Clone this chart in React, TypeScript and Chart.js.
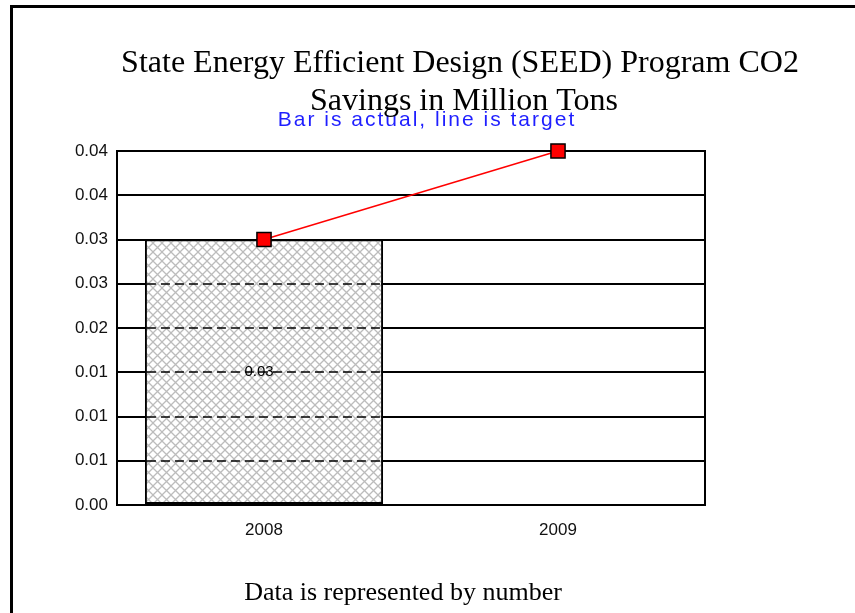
import React, { useEffect, useRef } from 'react';
import { Chart, registerables } from 'chart.js';

Chart.register(...registerables);

const categories = ['2008', '2009'];
const actualValues: (number | null)[] = [0.03, null];
const targetValues = [0.03, 0.04];
const yTickLabels = ['0.00', '0.01', '0.01', '0.01', '0.02', '0.03', '0.03', '0.04', '0.04'];
const yMin = 0;
const yMax = 0.04;
const yStep = 0.005;
const titleLines = ['State Energy Efficient Design (SEED) Program CO2', 'Savings in Million Tons'];
const subtitleText = 'Bar is actual, line is target';
const footerText = 'Data is represented by number';

function makeHatch(): CanvasPattern | string {
  const s = 9;
  const c = document.createElement('canvas');
  c.width = s;
  c.height = s;
  const g = c.getContext('2d');
  if (!g) return '#ddd';
  g.fillStyle = '#ffffff';
  g.fillRect(0, 0, s, s);
  g.strokeStyle = '#bcbcbc';
  g.lineWidth = 1.3;
  g.beginPath();
  g.moveTo(-1, -1);
  g.lineTo(s + 1, s + 1);
  g.moveTo(s + 1, -1);
  g.lineTo(-1, s + 1);
  g.stroke();
  const p = g.createPattern(c, 'repeat');
  return p || '#ddd';
}

const decorPlugin = {
  id: 'decor',
  beforeDatasetsDraw(chart: any) {
    const ctx = chart.ctx;
    const a = chart.chartArea;
    ctx.save();
    ctx.strokeStyle = '#000';
    ctx.lineWidth = 2;
    ctx.strokeRect(a.left, a.top, a.right - a.left, a.bottom - a.top);
    ctx.restore();
  },
  afterDatasetDraw(chart: any, args: any) {
    if (args.meta.type !== 'bar') return;
    const ctx = chart.ctx;
    const yScale = chart.scales.y;
    args.meta.data.forEach((bar: any, i: number) => {
      const v = actualValues[i];
      if (v == null) return;
      const p = bar.getProps(['x', 'y', 'base', 'width'], true);
      const left = p.x - p.width / 2;
      const right = p.x + p.width / 2;
      ctx.save();
      ctx.strokeStyle = '#000';
      ctx.lineWidth = 1.5;
      ctx.setLineDash([9, 5]);
      yScale.ticks.forEach((t: any) => {
        if (t.value > 1e-9 && t.value < v - 1e-9) {
          const py = Math.round(yScale.getPixelForValue(t.value));
          ctx.beginPath();
          ctx.moveTo(left + 2, py);
          ctx.lineTo(right - 1, py);
          ctx.stroke();
        }
      });
      ctx.setLineDash([]);
      ctx.fillStyle = '#000';
      ctx.font = '15px "Liberation Sans", Arial, sans-serif';
      ctx.textAlign = 'center';
      ctx.textBaseline = 'middle';
      ctx.fillText(v.toFixed(2), p.x - 5, (p.y + p.base) / 2);
      ctx.restore();
    });
  },
  afterDraw(chart: any) {
    const ctx = chart.ctx;
    ctx.save();
    // subtitle
    ctx.fillStyle = '#1f1fff';
    ctx.font = '21px "Liberation Sans", Arial, sans-serif';
    (ctx as any).letterSpacing = '2px';
    ctx.textAlign = 'center';
    ctx.textBaseline = 'alphabetic';
    ctx.fillText(subtitleText, 427, 126);
    (ctx as any).letterSpacing = '0px';
    // title
    ctx.fillStyle = '#000';
    ctx.font = '32px "Liberation Serif", "Times New Roman", serif';
    ctx.fillText(titleLines[0], 460, 72);
    ctx.fillText(titleLines[1], 464, 110);
    // footer
    ctx.font = '26px "Liberation Serif", "Times New Roman", serif';
    ctx.fillText(footerText, 403, 600);
    ctx.restore();
  },
};

export default function App() {
  const ref = useRef<HTMLCanvasElement>(null);
  useEffect(() => {
    if (!ref.current) return;
    const hatch = makeHatch();
    const chart = new Chart(ref.current, {
      type: 'bar',
      data: {
        labels: categories,
        datasets: [
          {
            type: 'line',
            label: 'Target',
            data: targetValues,
            borderColor: '#ff0000',
            borderWidth: 1.5,
            backgroundColor: '#ff0000',
            pointStyle: 'rect',
            pointRadius: 10,
            pointBackgroundColor: '#ff0000',
            pointBorderColor: '#000',
            pointBorderWidth: 1.5,
            order: 0,
            clip: false,
          } as any,
          {
            type: 'bar',
            label: 'Actual',
            data: actualValues,
            backgroundColor: hatch as any,
            borderColor: '#000',
            borderWidth: 2,
            borderSkipped: false,
            barPercentage: 0.81,
            categoryPercentage: 1,
            order: 1,
          } as any,
        ],
      },
      options: {
        responsive: false,
        animation: false,
        devicePixelRatio: 1,
        layout: { padding: { left: 0, right: 150, top: 151, bottom: 0 } },
        plugins: {
          legend: { display: false },
          tooltip: { enabled: false },
          title: { display: false },
        },
        scales: {
          x: {
            afterFit: (s: any) => {
              s.height = 108;
            },
            grid: { display: false },
            border: { display: false },
            ticks: {
              color: '#111',
              font: { family: '"Liberation Sans", Arial, sans-serif', size: 17 },
              padding: 7,
              maxRotation: 0,
            },
          },
          y: {
            min: yMin,
            max: yMax,
            afterFit: (s: any) => {
              s.width = 117;
            },
            grid: { color: '#000', lineWidth: 2, drawTicks: false },
            border: { display: false },
            ticks: {
              stepSize: yStep,
              color: '#111',
              font: { family: '"Liberation Sans", Arial, sans-serif', size: 17 },
              padding: 9,
              callback: (_v: any, i: number) => yTickLabels[i],
            },
          },
        },
      },
      plugins: [decorPlugin],
    });
    return () => chart.destroy();
  }, []);
  return (
    <div
      style={{
        position: 'absolute',
        left: 0,
        top: 0,
        width: 855,
        height: 613,
        overflow: 'hidden',
        background: '#fff',
      }}
    >
      <div
        style={{
          position: 'absolute',
          left: 10,
          top: 5,
          width: 1000,
          height: 1000,
          borderLeft: '3px solid #000',
          borderTop: '3px solid #000',
        }}
      />
      <canvas
        ref={ref}
        width={855}
        height={613}
        style={{ position: 'absolute', left: 0, top: 0, width: 855, height: 613 }}
      />
    </div>
  );
}
